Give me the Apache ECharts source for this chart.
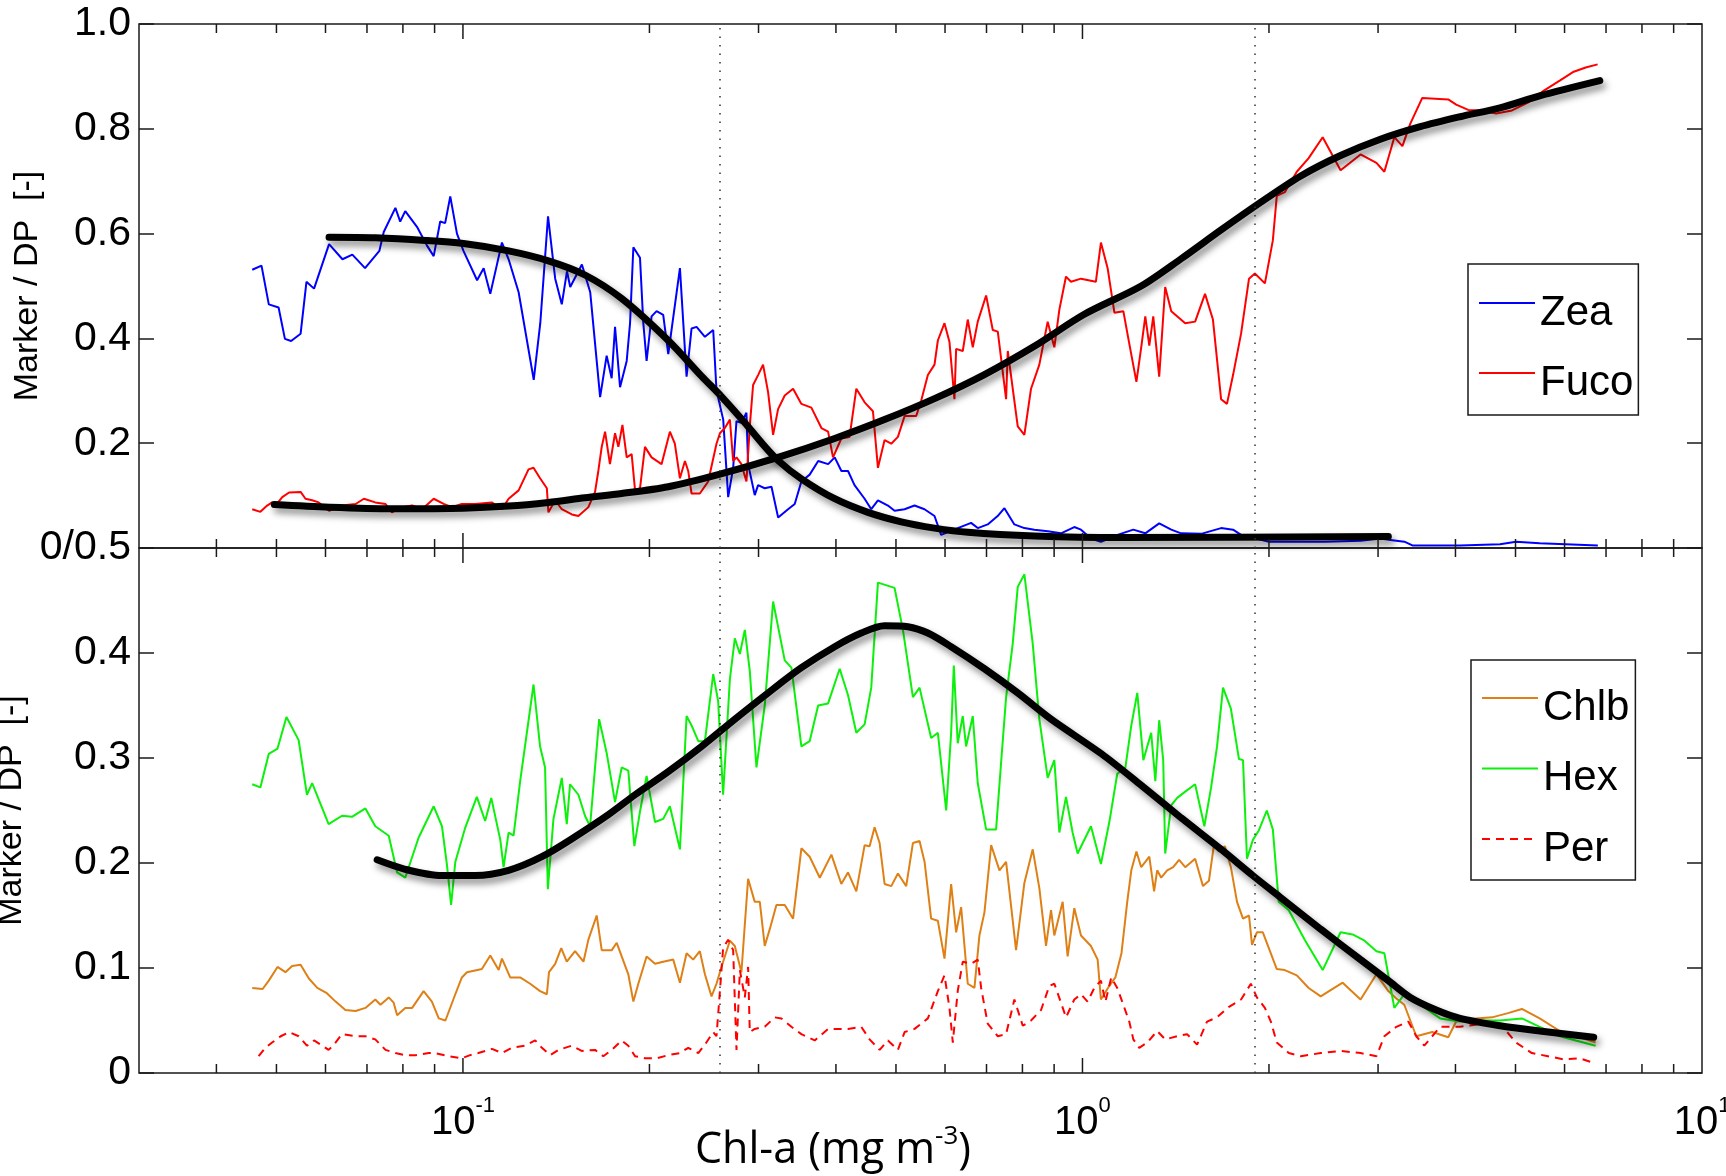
<!DOCTYPE html>
<html>
<head>
<meta charset="utf-8">
<title>Marker pigment ratios vs Chl-a</title>
<script src="https://cdn.jsdelivr.net/npm/echarts@6.0.0/dist/echarts.min.js"></script>
<style>
  html, body { margin: 0; padding: 0; background: #ffffff; }
  #chart { width: 1726px; height: 1176px; }
</style>
</head>
<body>
<div id="chart"></div>
<script>
// ---- data: [Chl-a (mg m^-3), marker / DP ratio] ----
const zea = [
  [0.0457,0.531],[0.0473,0.539],[0.0486,0.465],[0.0504,0.459],[0.0516,0.399],[0.0528,0.395],[0.0547,0.409],[0.0559,0.508],
  [0.0575,0.495],[0.0608,0.580],[0.0639,0.551],[0.0663,0.560],[0.0695,0.534],[0.0733,0.567],[0.0745,0.603],[0.0778,0.649],
  [0.0792,0.623],[0.0807,0.643],[0.0843,0.613],[0.0875,0.577],[0.0897,0.557],[0.0919,0.623],[0.0936,0.620],[0.0954,0.671],
  [0.0978,0.600],[0.1002,0.567],[0.1054,0.511],[0.108,0.534],[0.1107,0.485],[0.1156,0.583],[0.1185,0.551],[0.123,0.488],
  [0.1301,0.321],[0.1333,0.429],[0.1372,0.633],[0.1409,0.514],[0.1444,0.465],[0.1472,0.528],[0.149,0.498],[0.1556,0.541],
  [0.1605,0.488],[0.1665,0.288],[0.1706,0.367],[0.1738,0.324],[0.176,0.422],[0.1793,0.307],[0.1838,0.357],[0.1861,0.429],
  [0.1884,0.574],[0.1931,0.554],[0.1955,0.429],[0.1979,0.357],[0.2016,0.442],[0.2054,0.452],[0.2105,0.445],[0.2145,0.370],
  [0.2171,0.416],[0.224,0.534],[0.2296,0.327],[0.2339,0.419],[0.2383,0.422],[0.2458,0.403],[0.2535,0.416],[0.2566,0.301],
  [0.2631,0.245],[0.268,0.097],[0.273,0.153],[0.2764,0.242],[0.2815,0.239],[0.2868,0.258],[0.2886,0.160],[0.2958,0.101],
  [0.2995,0.120],[0.307,0.114],[0.3148,0.117],[0.3227,0.058],[0.3348,0.074],[0.3432,0.084],[0.3518,0.127],[0.3628,0.140],
  [0.3745,0.166],[0.3886,0.160],[0.3982,0.173],[0.4082,0.147],[0.4184,0.147],[0.4286,0.120],[0.445,0.094],[0.4561,0.074],
  [0.4676,0.091],[0.4853,0.081],[0.4974,0.071],[0.5162,0.074],[0.5357,0.081],[0.5559,0.074],[0.577,0.061],[0.5914,0.025],
  [0.6291,0.038],[0.661,0.048],[0.6776,0.038],[0.7031,0.045],[0.7296,0.061],[0.7482,0.076],[0.7764,0.045],[0.8057,0.038],
  [0.8361,0.035],[0.879,0.032],[0.9232,0.028],[0.9701,0.040],[0.9945,0.035],[1.032,0.018],[1.071,0.012],[1.125,0.022],
  [1.139,0.025],[1.208,0.035],[1.263,0.028],[1.33,0.047],[1.391,0.035],[1.443,0.028],[1.554,0.027],[1.674,0.038],
  [1.75,0.035],[1.803,0.025],[2.0,0.012],[2.46,0.012],[2.811,0.014],[3.026,0.018],[3.164,0.015],[3.308,0.012],
  [3.408,0.005],[4.07,0.005],[4.72,0.007],[5.01,0.012],[5.47,0.009],[6.79,0.005]
];

const fuco = [
  [0.0457,0.074],[0.0471,0.069],[0.0483,0.081],[0.0492,0.087],[0.0498,0.081],[0.0511,0.097],[0.0524,0.106],[0.0547,0.107],
  [0.0557,0.094],[0.0571,0.091],[0.0585,0.087],[0.0608,0.071],[0.0638,0.081],[0.0671,0.084],[0.0692,0.094],[0.0722,0.087],
  [0.075,0.084],[0.0768,0.068],[0.0798,0.078],[0.0828,0.081],[0.0859,0.074],[0.0897,0.094],[0.0931,0.084],[0.096,0.078],
  [0.0996,0.084],[0.1047,0.084],[0.1113,0.087],[0.1156,0.074],[0.1185,0.094],[0.123,0.110],[0.1276,0.150],[0.13,0.153],
  [0.1332,0.133],[0.1366,0.114],[0.1374,0.068],[0.1409,0.091],[0.1444,0.074],[0.1499,0.064],[0.1536,0.061],[0.1594,0.078],
  [0.1634,0.107],[0.1654,0.147],[0.1675,0.193],[0.1696,0.222],[0.1727,0.160],[0.176,0.219],[0.1782,0.193],[0.1809,0.235],
  [0.1838,0.173],[0.1872,0.179],[0.1896,0.110],[0.1931,0.114],[0.1967,0.193],[0.2016,0.173],[0.2092,0.160],[0.2158,0.222],
  [0.2198,0.199],[0.224,0.133],[0.2282,0.166],[0.231,0.147],[0.2339,0.104],[0.2412,0.104],[0.2488,0.127],[0.2566,0.199],
  [0.2599,0.219],[0.2647,0.229],[0.2697,0.245],[0.273,0.166],[0.2764,0.173],[0.2815,0.160],[0.2868,0.127],[0.2904,0.232],
  [0.294,0.311],[0.2995,0.330],[0.3051,0.350],[0.3108,0.298],[0.3167,0.216],[0.3226,0.265],[0.3307,0.291],[0.3411,0.304],
  [0.3518,0.275],[0.3651,0.268],[0.379,0.229],[0.3885,0.222],[0.3957,0.173],[0.4081,0.209],[0.4208,0.212],[0.4315,0.304],
  [0.445,0.278],[0.459,0.261],[0.4676,0.153],[0.4793,0.206],[0.4913,0.199],[0.5036,0.212],[0.5163,0.252],[0.539,0.252],
  [0.5491,0.281],[0.5629,0.330],[0.577,0.350],[0.5842,0.396],[0.5988,0.429],[0.61,0.393],[0.6214,0.284],[0.6253,0.380],
  [0.6409,0.376],[0.6529,0.436],[0.6652,0.383],[0.6776,0.432],[0.699,0.482],[0.7165,0.416],[0.73,0.413],[0.7529,0.284],
  [0.7576,0.376],[0.7717,0.304],[0.7862,0.232],[0.8058,0.216],[0.826,0.304],[0.8519,0.350],[0.8787,0.432],[0.9007,0.383],
  [0.9177,0.455],[0.9406,0.518],[0.9583,0.508],[0.9945,0.514],[1.051,0.508],[1.071,0.583],[1.098,0.534],[1.126,0.449],
  [1.164,0.452],[1.19,0.390],[1.222,0.317],[1.244,0.383],[1.263,0.442],[1.282,0.386],[1.301,0.442],[1.33,0.327],
  [1.36,0.498],[1.391,0.452],[1.465,0.429],[1.52,0.432],[1.577,0.485],[1.624,0.436],[1.674,0.284],[1.711,0.275],
  [1.75,0.330],[1.803,0.409],[1.857,0.514],[1.898,0.524],[1.97,0.505],[2.029,0.587],[2.059,0.672],[2.121,0.679],
  [2.218,0.718],[2.318,0.744],[2.442,0.784],[2.61,0.721],[2.811,0.751],[2.982,0.735],[3.071,0.718],[3.187,0.784],
  [3.284,0.767],[3.382,0.810],[3.536,0.859],[3.894,0.856],[4.011,0.846],[4.194,0.836],[4.384,0.835],[4.652,0.829],
  [4.934,0.835],[5.236,0.850],[5.556,0.873],[5.893,0.892],[6.208,0.909],[6.49,0.917],[6.785,0.923]
];

const zeaFit = [
  [0.0608,0.593],[0.0722,0.592],[0.087,0.587],[0.1002,0.581],[0.1185,0.567],[0.1374,0.548],[0.1574,0.521],[0.1804,0.476],
  [0.2145,0.396],[0.2427,0.328],[0.2614,0.289],[0.2851,0.239],[0.3033,0.201],[0.3226,0.167],[0.3518,0.132],[0.3982,0.094],
  [0.4506,0.068],[0.5099,0.050],[0.577,0.038],[0.6529,0.030],[0.8361,0.023],[1.154,0.020],[3.117,0.022]
];

const fucoFit = [
  [0.0496,0.083],[0.0608,0.078],[0.0768,0.075],[0.1002,0.076],[0.1185,0.080],[0.1374,0.087],[0.1574,0.096],[0.1804,0.104],
  [0.2145,0.117],[0.2582,0.140],[0.3226,0.173],[0.3982,0.209],[0.4793,0.245],[0.577,0.285],[0.6947,0.331],[0.8361,0.385],
  [1.007,0.446],[1.244,0.500],[1.443,0.552],[1.674,0.607],[1.941,0.660],[2.251,0.710],[2.61,0.749],[3.026,0.780],
  [3.51,0.804],[4.07,0.823],[4.72,0.840],[5.47,0.863],[6.84,0.892]
];

const chlb = [
  [0.0457,0.081],[0.0475,0.080],[0.0486,0.088],[0.0502,0.101],[0.0517,0.096],[0.053,0.102],[0.0547,0.103],[0.0564,0.090],
  [0.0582,0.081],[0.0603,0.076],[0.0623,0.068],[0.0646,0.060],[0.0671,0.059],[0.0696,0.062],[0.0722,0.070],[0.0736,0.065],
  [0.0759,0.072],[0.0773,0.067],[0.0783,0.055],[0.0807,0.062],[0.0828,0.062],[0.0864,0.078],[0.0891,0.068],[0.0914,0.052],
  [0.0937,0.050],[0.0972,0.075],[0.0996,0.091],[0.1015,0.096],[0.1073,0.099],[0.1107,0.112],[0.1142,0.098],[0.1156,0.109],
  [0.1192,0.091],[0.1237,0.091],[0.1284,0.085],[0.1332,0.078],[0.1366,0.075],[0.1377,0.096],[0.1409,0.104],[0.1441,0.119],
  [0.1471,0.106],[0.1517,0.116],[0.1565,0.106],[0.1594,0.127],[0.1644,0.150],[0.1675,0.117],[0.1739,0.117],[0.1771,0.124],
  [0.1804,0.111],[0.1849,0.094],[0.1884,0.068],[0.1919,0.085],[0.1979,0.111],[0.2042,0.104],[0.2105,0.106],[0.2185,0.108],
  [0.224,0.086],[0.2296,0.114],[0.2353,0.108],[0.2412,0.116],[0.2458,0.094],[0.2519,0.073],[0.2566,0.085],[0.2614,0.101],
  [0.2697,0.126],[0.2747,0.121],[0.2815,0.096],[0.2886,0.185],[0.2958,0.163],[0.3014,0.163],[0.307,0.121],[0.3128,0.137],
  [0.3206,0.160],[0.3307,0.160],[0.3411,0.147],[0.3518,0.214],[0.3628,0.206],[0.3767,0.186],[0.3933,0.208],[0.4081,0.180],
  [0.4183,0.191],[0.4315,0.173],[0.445,0.217],[0.4533,0.216],[0.4618,0.234],[0.4705,0.219],[0.4793,0.180],[0.4913,0.178],
  [0.5036,0.190],[0.5194,0.178],[0.5325,0.219],[0.5458,0.221],[0.5561,0.201],[0.5698,0.147],[0.5842,0.145],[0.5988,0.109],
  [0.6138,0.180],[0.6253,0.134],[0.637,0.158],[0.6529,0.085],[0.6693,0.081],[0.6818,0.131],[0.6947,0.153],[0.7122,0.217],
  [0.7345,0.193],[0.7529,0.201],[0.7813,0.117],[0.8058,0.181],[0.8312,0.213],[0.8519,0.176],[0.8733,0.121],[0.8897,0.155],
  [0.9007,0.131],[0.929,0.163],[0.9464,0.111],[0.9701,0.157],[0.9945,0.131],[1.032,0.121],[1.058,0.108],[1.071,0.070],
  [1.105,0.083],[1.13,0.091],[1.156,0.114],[1.181,0.163],[1.199,0.193],[1.222,0.211],[1.244,0.196],[1.263,0.201],
  [1.282,0.206],[1.305,0.173],[1.32,0.193],[1.34,0.186],[1.37,0.193],[1.401,0.196],[1.432,0.203],[1.465,0.196],
  [1.52,0.204],[1.565,0.178],[1.6,0.183],[1.629,0.216],[1.661,0.211],[1.698,0.216],[1.736,0.196],[1.776,0.163],
  [1.816,0.147],[1.857,0.150],[1.878,0.122],[1.912,0.134],[1.955,0.134],[1.999,0.119],[2.059,0.099],[2.121,0.098],
  [2.218,0.093],[2.318,0.081],[2.424,0.073],[2.63,0.086],[2.811,0.070],[2.982,0.094],[3.117,0.078],[3.211,0.071],
  [3.307,0.065],[3.458,0.035],[3.669,0.039],[3.894,0.034],[4.011,0.049],[4.318,0.052],[4.583,0.053],[4.862,0.057],
  [5.12,0.061],[5.47,0.052],[5.893,0.040],[6.348,0.034],[6.735,0.029]
];

const hex = [
  [0.0457,0.275],[0.0471,0.272],[0.0486,0.304],[0.0502,0.309],[0.0519,0.339],[0.0543,0.317],[0.056,0.265],[0.0571,0.276],
  [0.0607,0.237],[0.0638,0.245],[0.0662,0.244],[0.0696,0.252],[0.0722,0.235],[0.0759,0.226],[0.0783,0.191],[0.0807,0.186],
  [0.0848,0.224],[0.0897,0.254],[0.0925,0.235],[0.0942,0.199],[0.0957,0.160],[0.0972,0.201],[0.1009,0.234],[0.1053,0.263],
  [0.1086,0.240],[0.1111,0.262],[0.1149,0.222],[0.1163,0.196],[0.1185,0.229],[0.1207,0.226],[0.1237,0.278],[0.13,0.370],
  [0.1332,0.311],[0.1357,0.291],[0.1371,0.175],[0.14,0.242],[0.1444,0.281],[0.1471,0.237],[0.1489,0.275],[0.1536,0.265],
  [0.1574,0.245],[0.1604,0.235],[0.1659,0.337],[0.1707,0.304],[0.176,0.258],[0.1804,0.291],[0.1849,0.288],[0.1891,0.216],
  [0.1931,0.249],[0.1979,0.283],[0.2042,0.239],[0.2105,0.242],[0.2158,0.254],[0.224,0.213],[0.2296,0.340],[0.2339,0.331],
  [0.2398,0.316],[0.2458,0.316],[0.2535,0.380],[0.2582,0.354],[0.263,0.265],[0.2697,0.375],[0.2747,0.414],[0.2799,0.399],
  [0.2851,0.422],[0.2904,0.383],[0.2977,0.291],[0.307,0.350],[0.3167,0.449],[0.3307,0.393],[0.339,0.386],[0.3518,0.311],
  [0.3628,0.316],[0.3744,0.350],[0.3885,0.352],[0.4056,0.385],[0.4183,0.360],[0.4315,0.324],[0.445,0.332],[0.4561,0.367],
  [0.4676,0.467],[0.4974,0.462],[0.5131,0.422],[0.5325,0.358],[0.5458,0.367],[0.5698,0.319],[0.5842,0.324],[0.6026,0.250],
  [0.6138,0.324],[0.6199,0.388],[0.629,0.314],[0.6409,0.340],[0.6489,0.311],[0.6652,0.340],[0.6776,0.276],[0.699,0.232],
  [0.7254,0.232],[0.7389,0.295],[0.7529,0.358],[0.7717,0.409],[0.7862,0.463],[0.8058,0.475],[0.8312,0.409],[0.8519,0.337],
  [0.8787,0.281],[0.9007,0.298],[0.9177,0.229],[0.9406,0.263],[0.964,0.229],[0.9822,0.209],[1.032,0.235],[1.071,0.199],
  [1.105,0.239],[1.138,0.285],[1.173,0.291],[1.199,0.331],[1.226,0.362],[1.254,0.298],[1.291,0.324],[1.311,0.278],
  [1.33,0.336],[1.35,0.298],[1.36,0.209],[1.391,0.255],[1.422,0.262],[1.465,0.268],[1.52,0.275],[1.573,0.235],
  [1.613,0.272],[1.649,0.311],[1.686,0.367],[1.736,0.347],[1.789,0.299],[1.816,0.298],[1.843,0.204],[1.884,0.222],
  [1.926,0.231],[1.984,0.250],[2.029,0.232],[2.074,0.163],[2.153,0.155],[2.284,0.127],[2.442,0.098],[2.61,0.134],
  [2.729,0.132],[2.853,0.126],[2.982,0.116],[3.071,0.114],[3.187,0.062],[3.307,0.075],[3.51,0.065],[3.779,0.052],
  [4.07,0.049],[4.449,0.050],[4.72,0.050],[5.12,0.052],[5.47,0.044],[5.893,0.035],[6.735,0.026]
];

const per = [
  [0.0468,0.016],[0.048,0.024],[0.0492,0.029],[0.0508,0.035],[0.0524,0.039],[0.0543,0.035],[0.056,0.026],[0.0575,0.031],
  [0.0593,0.026],[0.0607,0.022],[0.0619,0.027],[0.0638,0.037],[0.0671,0.035],[0.0696,0.035],[0.0722,0.032],[0.075,0.022],
  [0.0778,0.019],[0.0807,0.017],[0.0838,0.017],[0.0881,0.019],[0.0902,0.019],[0.0948,0.016],[0.0996,0.014],[0.1027,0.017],
  [0.1059,0.019],[0.1114,0.023],[0.1156,0.019],[0.1199,0.024],[0.126,0.026],[0.1308,0.031],[0.1341,0.024],[0.1383,0.017],
  [0.1426,0.022],[0.1498,0.026],[0.1555,0.021],[0.1634,0.022],[0.1685,0.016],[0.1739,0.022],[0.1804,0.031],[0.1849,0.026],
  [0.1896,0.016],[0.1967,0.014],[0.2054,0.014],[0.2145,0.017],[0.224,0.019],[0.231,0.024],[0.2398,0.019],[0.2458,0.027],
  [0.2535,0.039],[0.2566,0.035],[0.2599,0.078],[0.263,0.119],[0.268,0.127],[0.273,0.117],[0.2764,0.022],[0.2799,0.098],
  [0.2851,0.072],[0.2886,0.101],[0.2904,0.039],[0.2958,0.042],[0.307,0.044],[0.3187,0.053],[0.3266,0.052],[0.339,0.044],
  [0.3518,0.037],[0.3697,0.031],[0.3885,0.042],[0.4183,0.042],[0.4395,0.044],[0.4533,0.032],[0.4705,0.022],[0.4853,0.031],
  [0.5036,0.022],[0.5163,0.039],[0.5358,0.042],[0.5629,0.052],[0.5842,0.078],[0.5988,0.093],[0.61,0.062],[0.6176,0.029],
  [0.629,0.078],[0.6409,0.106],[0.661,0.104],[0.6776,0.108],[0.6862,0.081],[0.7031,0.047],[0.73,0.035],[0.7529,0.037],
  [0.7764,0.070],[0.801,0.045],[0.826,0.050],[0.8573,0.060],[0.8841,0.083],[0.9007,0.085],[0.9232,0.067],[0.9406,0.053],
  [0.9701,0.070],[0.9945,0.075],[1.019,0.068],[1.045,0.081],[1.071,0.088],[1.089,0.068],[1.113,0.091],[1.138,0.081],
  [1.164,0.065],[1.19,0.049],[1.208,0.032],[1.235,0.024],[1.272,0.029],[1.32,0.040],[1.36,0.032],[1.422,0.035],
  [1.475,0.037],[1.531,0.027],[1.589,0.049],[1.649,0.053],[1.724,0.063],[1.803,0.070],[1.87,0.085],[1.912,0.072],
  [1.97,0.062],[2.014,0.049],[2.059,0.029],[2.153,0.019],[2.251,0.016],[2.424,0.019],[2.61,0.021],[2.811,0.019],
  [2.982,0.016],[3.071,0.035],[3.211,0.044],[3.357,0.049],[3.458,0.035],[3.562,0.026],[3.669,0.035],[3.779,0.044],
  [4.07,0.044],[4.449,0.047],[4.72,0.047],[5.01,0.029],[5.314,0.019],[5.638,0.016],[5.983,0.013],[6.348,0.014],[6.735,0.009]
];

const hexFit = [
  [0.0727,0.203],[0.0807,0.194],[0.0925,0.188],[0.1047,0.188],[0.1185,0.193],[0.1341,0.206],[0.1517,0.225],[0.1717,0.246],
  [0.1896,0.265],[0.2145,0.287],[0.2427,0.311],[0.2747,0.337],[0.3108,0.362],[0.3518,0.386],[0.3982,0.406],[0.4395,0.419],
  [0.4793,0.426],[0.5227,0.425],[0.5629,0.419],[0.6138,0.406],[0.6947,0.385],[0.7862,0.362],[0.8897,0.337],[1.073,0.304],
  [1.244,0.274],[1.443,0.243],[1.674,0.213],[1.884,0.188],[2.09,0.167],[2.424,0.137],[2.811,0.108],[3.117,0.088],
  [3.382,0.072],[3.724,0.060],[4.07,0.052],[4.72,0.045],[5.47,0.040],[6.686,0.034]
];

// vertical dotted boundaries (Chl-a, mg m^-3)
const zoneBounds = [0.26, 1.9];
// x-axis tick values
const majorTicks = [0.1, 1];
const minorTicks = [0.04,0.05,0.06,0.07,0.08,0.09,0.2,0.3,0.4,0.5,0.6,0.7,0.8,0.9,2,3,4,5,6,7,8,9];

// ---- styling ----
const SANS = '"Liberation Sans", Arial, Helvetica, sans-serif';
const INK = '#1a1a1a';
const GRID_LEFT = 139, GRID_RIGHT = 24;
const X_MIN = 0.03, X_MAX = 10;

const chart = echarts.init(document.getElementById('chart'), null, { renderer: 'canvas' });

function logAxis(gridIndex, withLabels) {
  return {
    type: 'log', logBase: 10, gridIndex: gridIndex, min: X_MIN, max: X_MAX,
    axisLine: { show: false }, axisTick: { show: false }, splitLine: { show: false },
    axisLabel: withLabels ? {
      show: true, margin: 22, color: '#000',
      formatter: function (v) {
        const e = Math.log10(v), r = Math.round(e);
        if (Math.abs(e - r) > 1e-6) return '';
        return '{b|10}{s|' + r + '}';
      },
      rich: {
        b: { fontSize: 40, fontFamily: SANS, color: '#000', lineHeight: 56 },
        s: { fontSize: 22, fontFamily: SANS, color: '#000', verticalAlign: 'top', lineHeight: 22 }
      }
    } : { show: false }
  };
}

function valueAxis(gridIndex, max, interval, side, fmt) {
  const ax = {
    type: 'value', gridIndex: gridIndex, min: 0, max: max, interval: interval, position: side,
    axisLine: { show: false }, splitLine: { show: false },
    axisTick: { show: true, inside: true, length: 15, lineStyle: { color: INK, width: 1.5 } },
    axisLabel: fmt ? { show: true, margin: 8, color: '#000', fontSize: 41, fontFamily: SANS, formatter: fmt } : { show: false }
  };
  if (side === 'left') {
    ax.name = 'Marker / DP  [-]';
    ax.nameLocation = 'middle';
    ax.nameRotate = 90;
    ax.nameGap = 94;
    ax.nameTextStyle = { fontSize: 34, fontFamily: SANS, color: '#000' };
  }
  return ax;
}

// short inside ticks on top and bottom frame edges, placed through the log axis
function tickSeries(xi, yi, yMax) {
  const vals = majorTicks.map(function (v) { return [v, 0, 1]; })
    .concat(minorTicks.map(function (v) { return [v, 0, 0]; }));
  return {
    type: 'custom', xAxisIndex: xi, yAxisIndex: yi, silent: true, clip: false, z: 4,
    encode: { x: 0, y: 1 },
    data: vals,
    renderItem: function (params, api) {
      const len = api.value(2) ? 15 : 9;
      const pb = api.coord([api.value(0), 0]);
      const pt = api.coord([api.value(0), yMax]);
      const st = { stroke: INK, lineWidth: 1.5 };
      return {
        type: 'group', children: [
          { type: 'line', shape: { x1: pb[0], y1: pb[1], x2: pb[0], y2: pb[1] - len }, style: st },
          { type: 'line', shape: { x1: pt[0], y1: pt[1], x2: pt[0], y2: pt[1] + len }, style: st }
        ]
      };
    }
  };
}

function dataLine(name, data, color, xi, yi, dashed, marks) {
  const s = {
    name: name, type: 'line', xAxisIndex: xi, yAxisIndex: yi, data: data,
    symbol: 'none', smooth: false, z: 2,
    lineStyle: { color: color, width: 2, type: dashed ? [8, 6] : 'solid' },
    itemStyle: { color: color }
  };
  if (marks) {
    s.markLine = {
      silent: true, symbol: ['none', 'none'], label: { show: false },
      lineStyle: { color: '#333', width: 1.5, type: [1.5, 7] },
      data: zoneBounds.map(function (b) { return { xAxis: b }; })
    };
  }
  return s;
}

function fitLine(name, data, xi, yi) {
  return {
    name: name, type: 'line', xAxisIndex: xi, yAxisIndex: yi, data: data,
    symbol: 'none', smooth: 0.3, z: 3,
    lineStyle: {
      color: '#000', width: 7, cap: 'round',
      shadowColor: 'rgba(0,0,0,0.45)', shadowBlur: 7, shadowOffsetX: 3, shadowOffsetY: 5
    }
  };
}

function legendBox(names, left, top, gap, padding) {
  return {
    data: names, orient: 'vertical', left: left, top: top,
    itemWidth: 56, itemHeight: 14, itemGap: gap,
    padding: padding,
    borderColor: INK, borderWidth: 1.5, backgroundColor: '#fff',
    selectedMode: false,
    itemStyle: { opacity: 0 },
    formatter: function (name) { return '{t|' + name + '}'; },
    textStyle: {
      color: '#000',
      rich: { t: { fontSize: 42, fontFamily: SANS, color: '#000', lineHeight: 46, padding: [20, 0, 0, 0] } }
    }
  };
}

const option = {
  animation: false,
  backgroundColor: '#ffffff',
  grid: [
    { left: GRID_LEFT, right: GRID_RIGHT, top: 24, height: 524, outerBoundsMode: 'none', containLabel: false,
      show: true, borderColor: INK, borderWidth: 1.5, backgroundColor: 'rgba(0,0,0,0)' },
    { left: GRID_LEFT, right: GRID_RIGHT, top: 548, height: 525, outerBoundsMode: 'none', containLabel: false,
      show: true, borderColor: INK, borderWidth: 1.5, backgroundColor: 'rgba(0,0,0,0)' }
  ],
  xAxis: [ logAxis(0, false), logAxis(1, true) ],
  yAxis: [
    valueAxis(0, 1, 0.2, 'left', function (v) { return Math.abs(v) < 1e-9 ? '' : v.toFixed(1); }),
    valueAxis(0, 1, 0.2, 'right', null),
    valueAxis(1, 0.5, 0.1, 'left', function (v) {
      if (Math.abs(v - 0.5) < 1e-9) return '0/0.5';
      if (Math.abs(v) < 1e-9) return '0';
      return v.toFixed(1);
    }),
    valueAxis(1, 0.5, 0.1, 'right', null)
  ],
  legend: [
    legendBox(['Zea', 'Fuco'], 1468, 264, 8, [8, 5, 11, 10]),
    legendBox(['Chlb', 'Hex', 'Per'], 1471, 660, 8.5, [7, 6, 10, 10])
  ],
  graphic: [{
    type: 'text', x: 833, y: 1151, z: 10,
    style: {
      text: '{t|Chl-a (mg m}{s|-3}{t|)}',
      align: 'center', verticalAlign: 'middle',
      rich: {
        t: { fontSize: 43, fontFamily: '"Open Sans", sans-serif', fill: '#000', lineHeight: 54 },
        s: { fontSize: 26, fontFamily: '"Open Sans", sans-serif', fill: '#000', verticalAlign: 'top', lineHeight: 30 }
      }
    }
  }],
  series: [
    tickSeries(0, 0, 1),
    tickSeries(1, 2, 0.5),
    dataLine('Zea', zea, '#0000ff', 0, 0, false, true),
    dataLine('Fuco', fuco, '#ff0000', 0, 0, false, false),
    fitLine('Zea fit', zeaFit, 0, 0),
    fitLine('Fuco fit', fucoFit, 0, 0),
    dataLine('Chlb', chlb, '#de8016', 1, 2, false, true),
    dataLine('Hex', hex, '#0cf00c', 1, 2, false, false),
    dataLine('Per', per, '#ff0000', 1, 2, true, false),
    fitLine('Hex fit', hexFit, 1, 2)
  ]
};

chart.setOption(option);
</script>
</body>
</html>
